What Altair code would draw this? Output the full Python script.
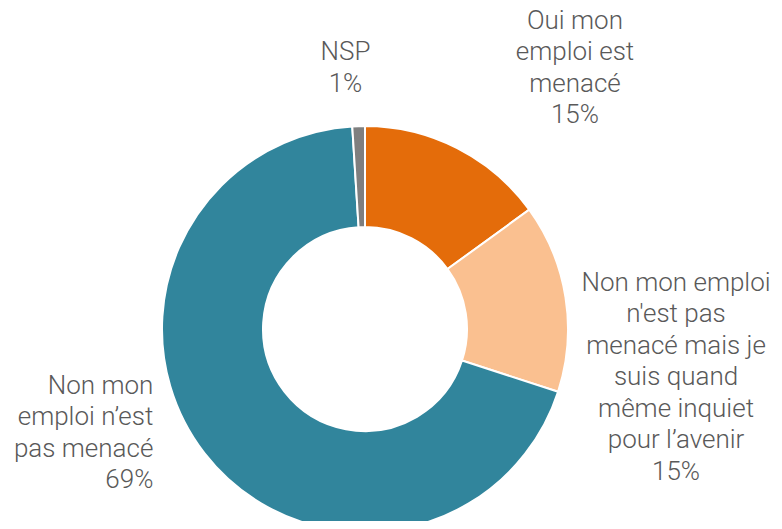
import math
import altair as alt
import pandas as pd

# ---- data ----
categories = [
    "Oui mon emploi est menacé",
    "Non mon emploi n'est pas menacé mais je suis quand même inquiet pour l'avenir",
    "Non mon emploi n’est pas menacé",
    "NSP",
]
values = [15, 15, 69, 1]
label_lines = [
    ["Oui mon", "emploi est", "menacé"],
    ["Non mon emploi", "n'est pas", "menacé mais je", "suis quand", "même inquiet", "pour l’avenir"],
    ["Non mon", "emploi n’est", "pas menacé"],
    ["NSP"],
]
colors = ["#E46C0A", "#FAC090", "#31859C", "#7F7F7F"]

df = pd.DataFrame({
    "cat": categories,
    "value": values,
    "order": list(range(len(categories))),
    "label": ["\n".join(lines + [f"{v}%"]) for lines, v in zip(label_lines, values)],
})

total = sum(values)
cx, cy = 357, 321
lh = 31.5
theta_scale = alt.Scale(domain=[0, total], range=[0, 2 * math.pi])

base = alt.Chart(df).transform_window(
    cum="sum(value)", sort=[alt.SortField("order")]
).transform_calculate(
    start="datum.cum - datum.value",
    mid="datum.cum - datum.value / 2",
)

arcs = base.mark_arc(innerRadius=102, outerRadius=203, stroke="white", strokeWidth=2).encode(
    theta=alt.Theta("start:Q", scale=theta_scale),
    theta2="cum:Q",
    color=alt.Color("cat:N", scale=alt.Scale(domain=categories, range=colors), legend=None),
    x=alt.value(cx),
    y=alt.value(cy),
)

text_style = dict(
    radius=240, baseline="middle", fontSize=26, lineHeight=lh,
    font="Roboto", fontWeight=300, color="#595959", lineBreak="\n",
)
offsets = [
    dict(dx=101, dy=-47, align="center"),
    dict(dx=74, dy=86, align="center"),
    dict(dx=-22, dy=-43, align="right"),
    dict(dx=-12, dy=-21, align="center"),
]

layers = [arcs]
for i, off in enumerate(offsets):
    n_lines = len(label_lines[i]) + 1
    off = dict(off)
    off["dy"] = off["dy"] - (n_lines - 1) * lh / 2
    layers.append(
        base.transform_filter(f"datum.order == {i}")
        .mark_text(**text_style, **off)
        .encode(
            theta=alt.Theta("mid:Q", scale=theta_scale),
            text=alt.Text("label:N"),
            x=alt.value(cx),
            y=alt.value(cy),
        )
    )

chart = alt.layer(*layers).properties(
    width=766, height=513, padding=0, autosize="none"
).configure_view(stroke=None)

chart.save("out.html", embed_options={"renderer": "svg", "actions": False})
